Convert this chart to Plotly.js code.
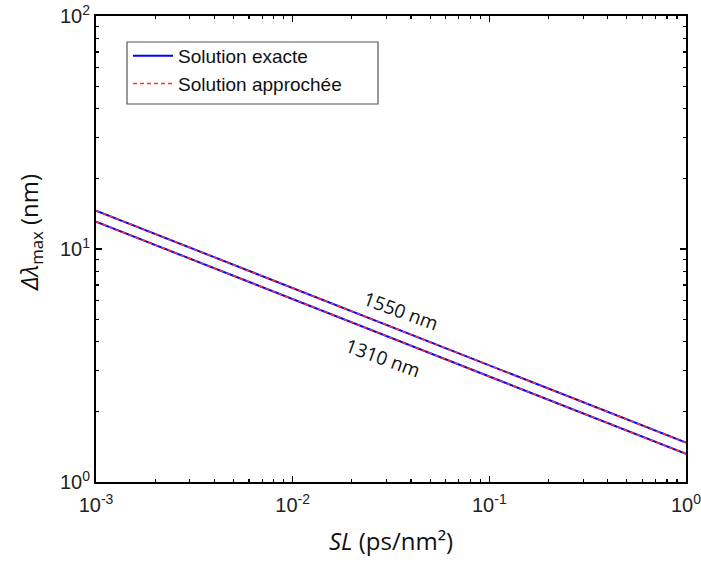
<!DOCTYPE html>
<html><head><meta charset="utf-8">
<script src="https://cdn.plot.ly/plotly-3.0.1.min.js"></script>
<style>body{margin:0;padding:0;background:#fff}#c{width:701px;height:562px}</style>
</head><body><div id="c"></div>
<script>
const sl = [0.001, 0.002, 0.005, 0.01, 0.02, 0.05, 0.1, 0.2, 0.5, 1];
const dl1550 = [14.6, 11.6, 8.55, 6.8, 5.4, 3.98, 3.17, 2.52, 1.86, 1.475];
const dl1310 = [13.1, 10.4, 7.65, 6.1, 4.83, 3.56, 2.84, 2.25, 1.66, 1.32];
const legendNames = ['Solution exacte', 'Solution approchée'];
const labels = ['1550 nm', '1310 nm'];
const xTitle = '<i>SL</i> (ps/nm²)';
const yTitle = '<i>Δλ</i><sub>max</sub> (nm)';
const xTickVals = [0.001, 0.01, 0.1, 1];
const xTickText = ['10<sup>-3</sup>', '10<sup>-2</sup>', '10<sup>-1</sup>', '10<sup>0</sup>'];
const yTickVals = [1, 10, 100];
const yTickText = ['10<sup>0</sup>', '10<sup>1</sup>', '10<sup>2</sup>'];

const traces = [
  {x: sl, y: dl1550, mode: 'lines', name: legendNames[0], line: {color: '#0000ff', width: 2}, showlegend: true},
  {x: sl, y: dl1310, mode: 'lines', name: legendNames[0], line: {color: '#0000ff', width: 2}, showlegend: false},
  {x: sl, y: dl1550, mode: 'lines', name: legendNames[1], line: {color: '#ff3333', width: 1.5, dash: '4px,3px'}, showlegend: true},
  {x: sl, y: dl1310, mode: 'lines', name: legendNames[1], line: {color: '#ff3333', width: 1.5, dash: '4px,3px'}, showlegend: false}
];

const axCommon = {
  type: 'log', showgrid: false, zeroline: false,
  showline: true, mirror: 'allticks', linecolor: '#000', linewidth: 2,
  ticks: 'inside', ticklen: 6, tickwidth: 1.5, tickcolor: '#000',
  tickmode: 'array', ticklabeloverflow: 'allow',
  tickfont: {family: 'Liberation Sans, Arial, sans-serif', size: 20, color: '#222'},
  minor: {ticks: 'inside', ticklen: 3, tickwidth: 1.2, tickcolor: '#000', dtick: 'D1', showgrid: false}
};

const L = 96, T = 16, W = 590, H = 466;
const px = v => (v - L) / W;
const py = v => (T + H - v) / H;

const layout = {
  width: 701, height: 562,
  margin: {l: L, r: 701 - L - W, t: T, b: 562 - T - H},
  paper_bgcolor: '#fff', plot_bgcolor: '#fff',
  showlegend: true,
  legend: {x: px(128), y: py(37), xanchor: 'left', yanchor: 'top', bgcolor: 'rgba(0,0,0,0)',
    borderwidth: 0,
    font: {family: 'Liberation Sans, Arial, sans-serif', size: 19, color: '#111'},
    tracegroupgap: 0, itemwidth: 40},
  shapes: [
    {type: 'rect', xref: 'paper', yref: 'paper', x0: px(127), x1: px(378), y0: py(104), y1: py(42),
     line: {color: '#555', width: 1.2}, fillcolor: '#fff', layer: 'below'}
  ],
  xaxis: Object.assign({}, axCommon, {range: [-3, 0.00001], tickvals: xTickVals, ticktext: xTickText,
    ticklabelstandoff: 4,
    title: {text: xTitle, font: {family: 'Open Sans, sans-serif', size: 24, color: '#111'}, standoff: 18}}),
  yaxis: Object.assign({}, axCommon, {range: [0, 2], tickvals: yTickVals, ticktext: yTickText}),
  annotations: [
    {xref: 'paper', yref: 'paper', x: px(30), y: py(233), text: yTitle, showarrow: false, textangle: -90,
     xanchor: 'center', yanchor: 'middle',
     font: {family: 'Open Sans, sans-serif', size: 24, color: '#111'}},
    {xref: 'paper', yref: 'paper', x: px(401), y: py(311), text: labels[0], showarrow: false, textangle: 20,
     xanchor: 'center', yanchor: 'middle',
     font: {family: 'Open Sans, sans-serif', size: 19, color: '#111'}},
    {xref: 'paper', yref: 'paper', x: px(383), y: py(358), text: labels[1], showarrow: false, textangle: 20,
     xanchor: 'center', yanchor: 'middle',
     font: {family: 'Open Sans, sans-serif', size: 19, color: '#111'}}
  ]
};
Plotly.newPlot('c', traces, layout, {displayModeBar: false, staticPlot: true});
</script></body></html>
